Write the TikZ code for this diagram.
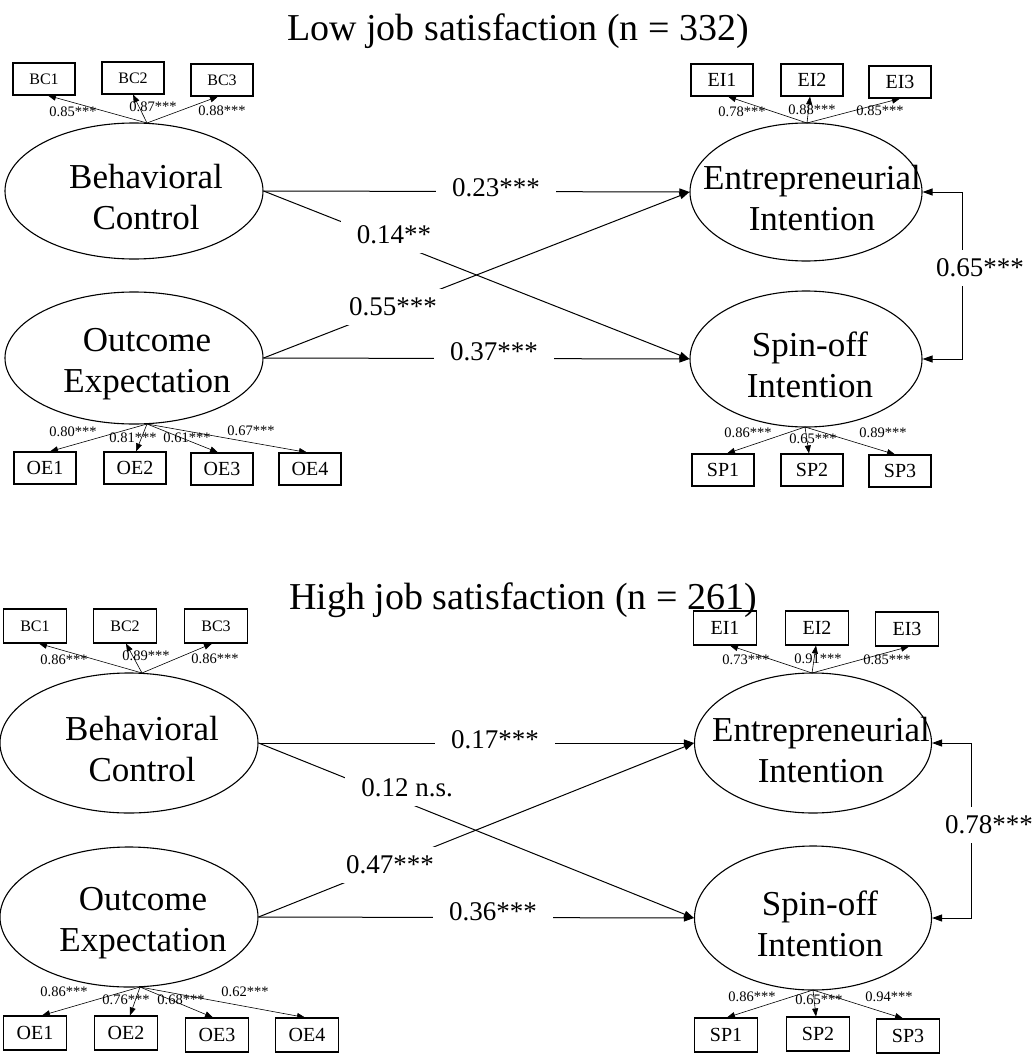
\documentclass[tikz,border=0pt]{standalone}
\usepackage{fontspec}
\setmainfont{Liberation Serif}
\usetikzlibrary{arrows.meta,shapes.geometric}

\begin{document}
\begin{tikzpicture}[x=1pt,y=-1pt,
  latent/.style={ellipse,draw,line width=1.1pt,inner sep=0pt},
  lattext/.style={align=center,inner sep=0pt,font=\fontsize{35}{41}\selectfont},
  obs/.style={rectangle,draw,line width=1.1pt,minimum width=62pt,minimum height=32pt,inner sep=0pt},
  obsbig/.style={obs,font=\fontsize{20}{22}\selectfont},
  obssmall/.style={obs,font=\fontsize{16}{18}\selectfont},
  load/.style={-{Triangle[length=8pt,width=6pt]},line width=0.6pt},
  loadlbl/.style={font=\fontsize{14.5}{16}\selectfont,inner sep=0pt},
  reg/.style={-{Triangle[length=10pt,width=7pt]},line width=1pt},
  covar/.style={{Triangle[length=10pt,width=7pt]}-{Triangle[length=10pt,width=7pt]},line width=1pt},
  coef/.style={fill=white,inner xsep=16pt,inner ysep=9pt,font=\fontsize{27}{30}\selectfont},
  heading/.style={font=\fontsize{38}{42}\selectfont}
]
\useasboundingbox (0,0) rectangle (1035,1054);

% ================= Low job satisfaction =================
\node[heading] (t1) at (518,31) {Low job satisfaction (n = 332)};

\node[latent,minimum width=258pt,minimum height=136pt] (BCa) at (134,191) {};
\node[latent,minimum width=258pt,minimum height=132pt] (OEa) at (134,358) {};
\node[latent,minimum width=232pt,minimum height=138pt] (EIa) at (806,192) {};
\node[latent,minimum width=232pt,minimum height=136pt] (SPa) at (806,359) {};

\node[lattext] (BCat) at (146,197) {Behavioral\\Control};
\node[lattext] (OEat) at (147,364) {Outcome\\Expectation};
\node[lattext] (EIat) at (812,198) {Entrepreneurial\\Intention};
\node[lattext] (SPat) at (810,365) {Spin-off\\Intention};

\node[obssmall] (BC1a) at (44,79) {BC1};
\node[obssmall] (BC2a) at (133,78) {BC2};
\node[obssmall] (BC3a) at (222,80) {BC3};
\node[obsbig] (EI1a) at (722,80) {EI1};
\node[obsbig] (EI2a) at (812,80) {EI2};
\node[obsbig] (EI3a) at (900,82) {EI3};
\node[obsbig] (OE1a) at (45,468) {OE1};
\node[obsbig] (OE2a) at (135,468) {OE2};
\node[obsbig] (OE3a) at (222,469) {OE3};
\node[obsbig] (OE4a) at (310,469) {OE4};
\node[obsbig] (SP1a) at (723,470) {SP1};
\node[obsbig] (SP2a) at (812,470) {SP2};
\node[obsbig] (SP3a) at (900,471) {SP3};

\coordinate (oBCa) at (147,123);
\coordinate (oEIa) at (807,123);
\coordinate (oOEa) at (147,424);
\coordinate (oSPa) at (805,427);

\draw[load] (oBCa) -- ([xshift=4pt]BC1a.south);
\draw[load] (oBCa) -- (BC2a.south);
\draw[load] (oBCa) -- ([xshift=-4pt]BC3a.south);
\draw[load] (oEIa) -- ([xshift=6pt]EI1a.south);
\draw[load] (oEIa) -- ([xshift=-2pt]EI2a.south);
\draw[load] (oEIa) -- (EI3a.south);
\draw[load] (oOEa) -- ([xshift=5pt]OE1a.north);
\draw[load] (oOEa) -- ([xshift=1pt]OE2a.north);
\draw[load] (oOEa) -- ([xshift=-4pt]OE3a.north);
\draw[load] (oOEa) -- ([xshift=-3pt]OE4a.north);
\draw[load] (oSPa) -- ([xshift=4pt]SP1a.north);
\draw[load] (oSPa) -- ([xshift=-3pt]SP2a.north);
\draw[load] (oSPa) -- ([xshift=-5pt]SP3a.north);

\node[loadlbl] (lBC1a) at (73,112) {0.85***};
\node[loadlbl] (lBC2a) at (153,107) {0.87***};
\node[loadlbl] (lBC3a) at (222,111) {0.88***};
\node[loadlbl] (lEI1a) at (742,112) {0.78***};
\node[loadlbl] (lEI2a) at (812,110) {0.88***};
\node[loadlbl] (lEI3a) at (880,111) {0.85***};
\node[loadlbl] (lOE1a) at (73,432) {0.80***};
\node[loadlbl] (lOE2a) at (133,438) {0.81***};
\node[loadlbl] (lOE3a) at (187,438) {0.61***};
\node[loadlbl] (lOE4a) at (251,431) {0.67***};
\node[loadlbl] (lSP1a) at (748,433) {0.86***};
\node[loadlbl] (lSP2a) at (813,439) {0.65***};
\node[loadlbl] (lSP3a) at (883,433) {0.89***};

\draw[reg] (BCa.east) -- (EIa.west);
\draw[reg] (BCa.east) -- (SPa.west);
\draw[reg] (OEa.east) -- (EIa.west);
\draw[reg] (OEa.east) -- (SPa.west);
\draw[covar] (EIa.east) -- ++(40,0) |- (SPa.east);

\node[coef] (c1a) at (496,188) {0.23***};
\node[coef] (c2a) at (394,235) {0.14**};
\node[coef] (c3a) at (393,307) {0.55***};
\node[coef] (c4a) at (494,352) {0.37***};
\node[coef] (c5a) at (980,268) {0.65***};

% ================= High job satisfaction =================
\node[heading] (t2) at (523,600) {High job satisfaction (n = 261)};

\node[latent,minimum width=258pt,minimum height=140pt] (BCb) at (129,743) {};
\node[latent,minimum width=258pt,minimum height=140pt] (OEb) at (129,917) {};
\node[latent,minimum width=237pt,minimum height=140pt] (EIb) at (813,743) {};
\node[latent,minimum width=237pt,minimum height=144pt] (SPb) at (813,918) {};

\node[lattext] (BCbt) at (142,749) {Behavioral\\Control};
\node[lattext] (OEbt) at (143,923) {Outcome\\Expectation};
\node[lattext] (EIbt) at (821,750) {Entrepreneurial\\Intention};
\node[lattext] (SPbt) at (820,924) {Spin-off\\Intention};

\node[obssmall,minimum width=63pt,minimum height=34pt] (BC1b) at (35,626) {BC1};
\node[obssmall,minimum width=63pt,minimum height=34pt] (BC2b) at (125,626) {BC2};
\node[obssmall,minimum width=63pt,minimum height=34pt] (BC3b) at (216,626) {BC3};
\node[obsbig,minimum width=63pt,minimum height=34pt] (EI1b) at (725,628) {EI1};
\node[obsbig,minimum width=63pt,minimum height=34pt] (EI2b) at (817,628) {EI2};
\node[obsbig,minimum width=63pt,minimum height=34pt] (EI3b) at (907,629) {EI3};
\node[obsbig,minimum width=63pt,minimum height=34pt] (OE1b) at (35,1033) {OE1};
\node[obsbig,minimum width=63pt,minimum height=34pt] (OE2b) at (126,1033) {OE2};
\node[obsbig,minimum width=63pt,minimum height=34pt] (OE3b) at (217,1035) {OE3};
\node[obsbig,minimum width=63pt,minimum height=34pt] (OE4b) at (307,1035) {OE4};
\node[obsbig,minimum width=63pt,minimum height=34pt] (SP1b) at (726,1035) {SP1};
\node[obsbig,minimum width=63pt,minimum height=34pt] (SP2b) at (818,1034) {SP2};
\node[obsbig,minimum width=63pt,minimum height=34pt] (SP3b) at (908,1036) {SP3};

\coordinate (oBCb) at (142,673);
\coordinate (oEIb) at (812,673);
\coordinate (oOEb) at (140,987);
\coordinate (oSPb) at (813,990);

\draw[load] (oBCb) -- ([xshift=4pt]BC1b.south);
\draw[load] (oBCb) -- ([xshift=1pt]BC2b.south);
\draw[load] (oBCb) -- ([xshift=-4pt]BC3b.south);
\draw[load] (oEIb) -- ([xshift=5pt]EI1b.south);
\draw[load] (oEIb) -- ([xshift=-1pt]EI2b.south);
\draw[load] (oEIb) -- ([xshift=2pt]EI3b.south);
\draw[load] (oOEb) -- ([xshift=7pt]OE1b.north);
\draw[load] (oOEb) -- ([xshift=4pt]OE2b.north);
\draw[load] (oOEb) -- ([xshift=-4pt]OE3b.north);
\draw[load] (oOEb) -- ([xshift=-2pt]OE4b.north);
\draw[load] (oSPb) -- ([xshift=1pt]SP1b.north);
\draw[load] (oSPb) -- ([xshift=-2pt]SP2b.north);
\draw[load] (oSPb) -- ([xshift=-5pt]SP3b.north);

\node[loadlbl] (lBC1b) at (64,660) {0.86***};
\node[loadlbl] (lBC2b) at (146,656) {0.89***};
\node[loadlbl] (lBC3b) at (215,659) {0.86***};
\node[loadlbl] (lEI1b) at (746,660) {0.73***};
\node[loadlbl] (lEI2b) at (818,659) {0.91***};
\node[loadlbl] (lEI3b) at (887,660) {0.85***};
\node[loadlbl] (lOE1b) at (64,992) {0.86***};
\node[loadlbl] (lOE2b) at (126,1000) {0.76***};
\node[loadlbl] (lOE3b) at (181,1000) {0.68***};
\node[loadlbl] (lOE4b) at (245,992) {0.62***};
\node[loadlbl] (lSP1b) at (752,997) {0.86***};
\node[loadlbl] (lSP2b) at (819,1000) {0.65***};
\node[loadlbl] (lSP3b) at (889,997) {0.94***};

\draw[reg] (BCb.east) -- (EIb.west);
\draw[reg] (BCb.east) -- (SPb.west);
\draw[reg] (OEb.east) -- (EIb.west);
\draw[reg] (OEb.east) -- (SPb.west);
\draw[covar] (EIb.east) -- ++(39,0) |- (SPb.east);

\node[coef] (c1b) at (495,740) {0.17***};
\node[coef] (c2b) at (407,788) {0.12 n.s.};
\node[coef] (c3b) at (390,865) {0.47***};
\node[coef] (c4b) at (493,912) {0.36***};
\node[coef] (c5b) at (989,825) {0.78***};
\end{tikzpicture}
\end{document}
